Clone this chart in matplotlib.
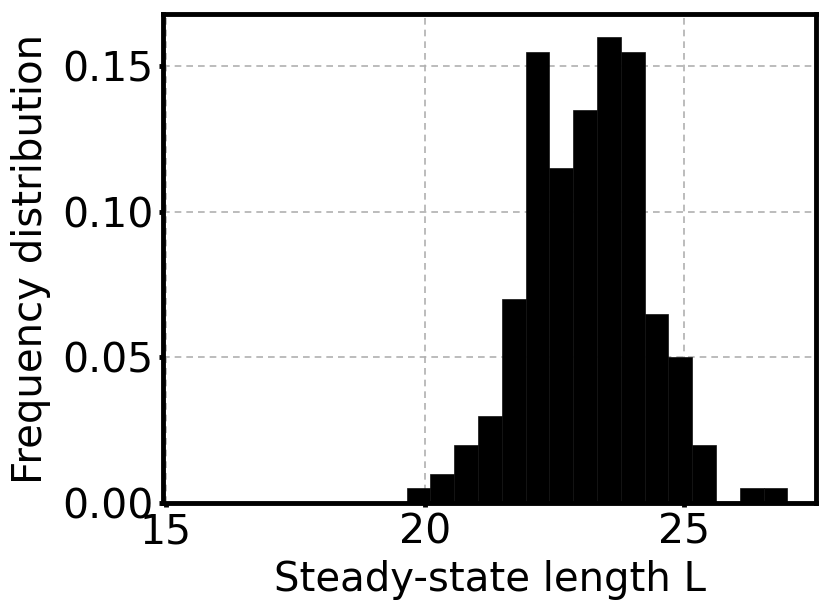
import numpy as np
import matplotlib
matplotlib.use("Agg")
import matplotlib.pyplot as plt

# Histogram data (frequency per bin)
bin_left = 19.65
bin_right = 27.0
n_bins = 16
freqs = [0.005, 0.01, 0.02, 0.03, 0.07, 0.155, 0.115, 0.135,
         0.16, 0.155, 0.065, 0.05, 0.02, 0.0, 0.005, 0.005]
x_ticks = [15, 20, 25]
y_ticks = [0.00, 0.05, 0.10, 0.15]
y_tick_labels = ["0.00", "0.05", "0.10", "0.15"]

edges = np.linspace(bin_left, bin_right, n_bins + 1)

fig = plt.figure(figsize=(8.3, 6.13), dpi=100)
ax = fig.add_axes([163/830, 1 - 503/613, (816-163)/830, (503-14)/613])

ax.bar(edges[:-1], freqs, width=np.diff(edges), align="edge",
       color="black", edgecolor="#111111", linewidth=0.5, zorder=2)

ax.set_xlim(14.95, 27.55)
ax.set_ylim(0, 0.168)
ax.set_xticks(x_ticks)
ax.set_yticks(y_ticks)
ax.set_yticklabels(y_tick_labels)

ax.set_axisbelow(True)
ax.grid(True, linestyle="--", color="#b0b0b0", linewidth=1.2, dashes=(4, 3))

for s in ax.spines.values():
    s.set_linewidth(3.5)
ax.tick_params(axis="both", which="major", labelsize=29.5, length=3, width=3.5, pad=4)

ax.set_xlabel("Steady-state length L", fontsize=29, labelpad=5)
ax.set_ylabel("Frequency distribution", fontsize=29, labelpad=8)

fig.savefig("out.png", dpi=100)
